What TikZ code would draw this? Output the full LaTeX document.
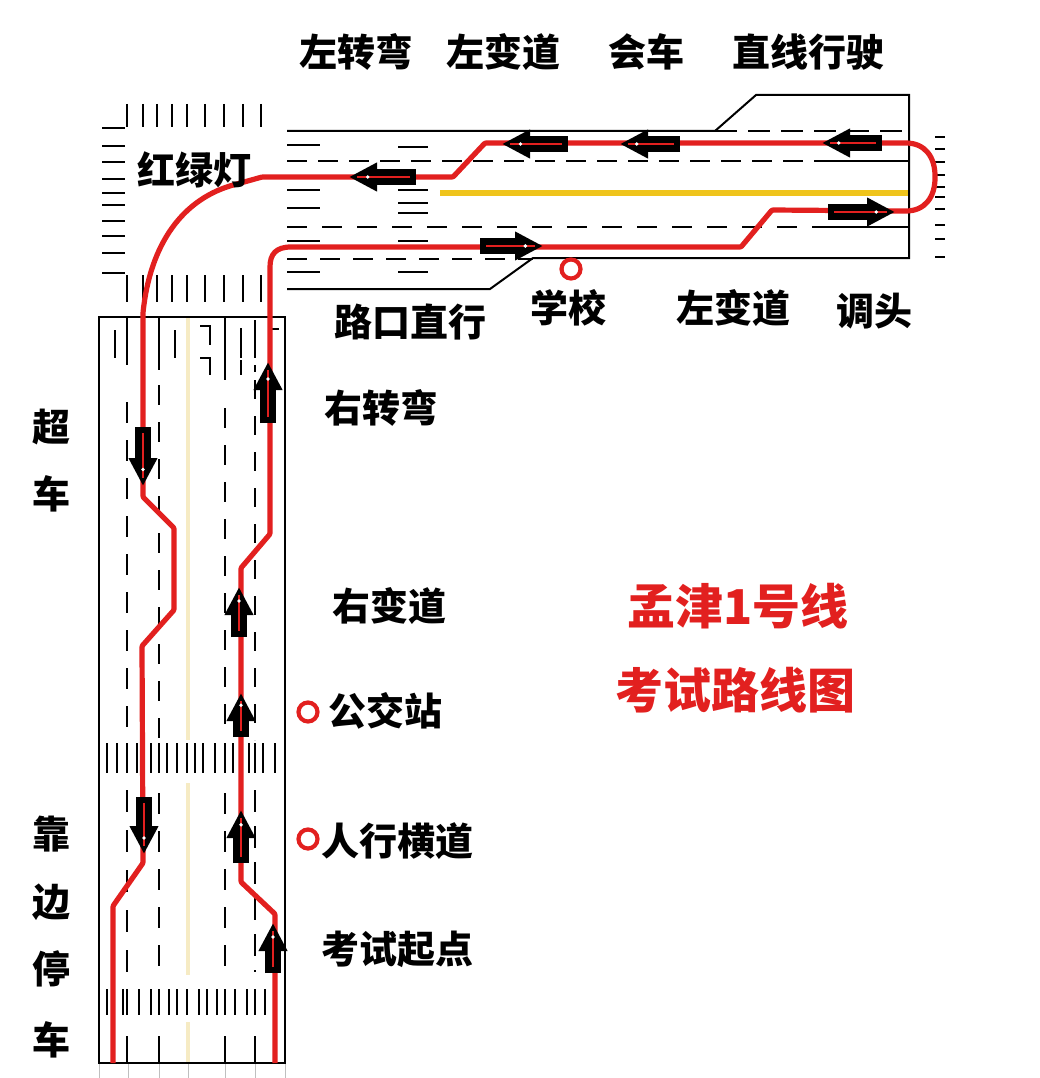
\documentclass[tikz,border=0pt]{standalone}
\usepackage{fontspec}
\setmainfont{Noto Sans CJK SC}
\usetikzlibrary{arrows.meta,calc}
\definecolor{routered}{HTML}{E2201F}
\definecolor{midyellow}{HTML}{EFC41C}
\definecolor{paleyellow}{HTML}{F6EBC4}
\tikzset{>={Latex}}
\newcommand{\dirarrow}[2]{%
  \draw[blockarr] #1 -- #2;
  \draw[innerarr] #1 -- #2;
  \fill[white] ($#1!.72!#2$) circle (1.9);}
\begin{document}
\begin{tikzpicture}[x=1pt, y=-1pt,
  tick/.style={draw=black, line width=2.1pt},
  roadline/.style={draw=black, line width=2pt},
  lanedash/.style={draw=black, line width=2.2pt, dash pattern=on 20pt off 17pt},
  route/.style={draw=routered, line width=5.2pt, line join=round, rounded corners=1pt},
  blockarr/.style={line width=16pt, black, -{Triangle[length=28pt,width=27pt]}},
  innerarr/.style={line width=2pt, routered, shorten >=8pt, shorten <=6pt},
  ring/.style={circle, draw=routered, line width=4.2pt, minimum size=19pt, inner sep=0pt},
  lab/.style={inner sep=0pt, font=\fontsize{38}{40}\selectfont\bfseries},
  title/.style={inner sep=0pt, text=routered, font=\fontsize{48}{50}\selectfont\bfseries}]
\useasboundingbox[fill=white] (0,0) rectangle (1040,1078);

\draw[roadline] (287,131) -- (715,131) -- (756,95) -- (909,95) -- (909,258) -- (533,258) -- (490,289) -- (287,289);
\draw[lanedash, dash pattern=on 22pt off 11pt] (715,131) -- (909,131);
\draw[lanedash, dash pattern=on 20pt off 11pt] (287,161) -- (828,161);
\draw[roadline] (828,161) -- (909,161);
\draw[lanedash, dash pattern=on 20pt off 15pt] (287,227) -- (832,227);
\draw[roadline] (832,227) -- (909,227);
\draw[lanedash, dash pattern=on 20pt off 13pt] (287,259) -- (533,259);
\draw[line width=6pt, midyellow] (440,193) -- (908,193);

\foreach \y in {128,146,162,179,193,205,221,236,253,273} \draw[tick] (102,\y) -- (125,\y);
\foreach \x in {127,143,157,172,187,205,224,243,261} \draw[tick] (\x,104) -- (\x,127);
\foreach \x in {127,143,157,172,187,205,224,243,261} \draw[tick] (\x,275) -- (\x,302);
\foreach \y in {145,190,208,241,272} \draw[tick] (287,\y) -- (320,\y);
\foreach \y in {147,190,203,213,241,272} \draw[tick] (398,\y) -- (428,\y);
\foreach \y in {137,149,162,175,187,197,209,225,239,257} \draw[tick] (935,\y) -- (945,\y);

\foreach \x in {128,159,225,255,99,285,188} \draw[line width=.5pt, black!25] (\x,1063) -- (\x,1078);
\draw[line width=4pt, paleyellow] (188,317) -- (188,740);
\draw[line width=4pt, paleyellow] (188,783) -- (188,975);
\draw[line width=4pt, paleyellow] (188,1022) -- (188,1063);

\draw[roadline] (99,317) rectangle (285,1063);
\draw[lanedash, dash pattern=on 21pt off 17pt] (127,402) -- (127,740);
\draw[lanedash] (159,385) -- (159,740);
\draw[lanedash] (225,408) -- (225,740);
\draw[lanedash, dash pattern=on 19pt off 17pt] (255,380) -- (255,740);
\draw[lanedash, dash pattern=on 22pt off 18pt] (127,790) -- (127,977);
\draw[lanedash, dash pattern=on 21pt off 17pt] (159,793) -- (159,972);
\draw[lanedash, dash pattern=on 21pt off 17pt] (225,793) -- (225,972);
\draw[lanedash, dash pattern=on 22pt off 14pt] (255,790) -- (255,972);
\foreach \x in {127,159,225,255} \draw[tick] (\x,1036) -- (\x,1063);
\draw[tick] (115,330) -- (115,358); \draw[tick] (127,317) -- (127,365); \draw[tick] (159,317) -- (159,370);
\draw[tick] (175,330) -- (175,358); \draw[tick] (200,326) -- (210,326) -- (210,345); \draw[tick] (200,358) -- (210,358) -- (210,375);
\draw[tick] (225,317) -- (225,380); \draw[tick] (241,328) -- (241,358); \draw[tick] (241,360) -- (241,375);
\draw[tick] (255,320) -- (255,358); \draw[tick] (270,329) -- (279,329); \draw[tick] (255,365) -- (255,372);

\foreach \x in {107,117,127,137,151,159,167,177,187,195,203,215,225,233,249,255,263,275} \draw[tick] (\x,743) -- (\x,773);
\foreach \x in {107,123,127,139,151,159,169,177,187,199,207,217,225,235,247,255,265,276} \draw[tick] (\x,989) -- (\x,1015);

\draw[route] (275,1063) -- (275,914) -- (241,882) -- (241,568) -- (270,534) -- (270,268)
  .. controls (270,254) and (276,247) .. (292,247) -- (741,247) -- (772,210) -- (905,211)
  .. controls (925,211) and (935,197) .. (935,177) .. controls (935,157) and (925,143) .. (905,143)
  -- (485,143) -- (453,177) -- (262,177) -- (237,184) .. controls (182,198) and (150,245) .. (143,313)
  -- (143,497) -- (174,528) -- (174,610) -- (142,646) -- (143,863) -- (113,906) -- (113,1063);

\dirarrow{(268,423)}{(268,362)}
\dirarrow{(239,637)}{(239,587)}
\dirarrow{(241,737)}{(241,693)}
\dirarrow{(241,863)}{(241,810)}
\dirarrow{(273,973)}{(273,923)}
\dirarrow{(143,427)}{(143,486)}
\dirarrow{(144,797)}{(144,854)}
\dirarrow{(416,177)}{(349,177)}
\dirarrow{(568,144)}{(502,144)}
\dirarrow{(680,144)}{(620,144)}
\dirarrow{(882,143)}{(822,143)}
\dirarrow{(480,246)}{(543,246)}
\dirarrow{(828,212)}{(895,212)}

\node[ring] (school) at (571,269) {};
\node[ring] (busstop) at (308,712) {};
\node[ring] (crossing) at (308,839) {};

\node[lab] (leftturn) at (356,52) {左转弯};
\node[lab] (leftlane) at (503,52) {左变道};
\node[lab] (meet) at (646,52) {会车};
\node[lab] (straight) at (808,52) {直线行驶};
\node[lab] (lights) at (194,170) {红绿灯};
\node[lab] (junction) at (410,322) {路口直行};
\node[lab] (schoollab) at (568,308) {学校};
\node[lab] (leftlaneb) at (733,308) {左变道};
\node[lab] (uturn) at (874,311) {调头};
\node[lab] (rightturn) at (381,408) {右转弯};
\node[lab] (rightlane) at (389,606) {右变道};
\node[lab] (buslab) at (385,711) {公交站};
\node[lab] (crosslab) at (397,841) {人行横道};
\node[lab] (start) at (397,949) {考试起点};
\node[lab] (pass) at (51,427) {超};
\node[lab] (passb) at (51,494) {车};
\node[lab] (stopa) at (51,834) {靠};
\node[lab] (stopb) at (51,902) {边};
\node[lab] (stopc) at (51,969) {停};
\node[lab] (stopd) at (51,1040) {车};
\node[title] (routename) at (738,606) {孟津1号线};
\node[title] (map) at (735,690) {考试路线图};
\end{tikzpicture}
\end{document}
